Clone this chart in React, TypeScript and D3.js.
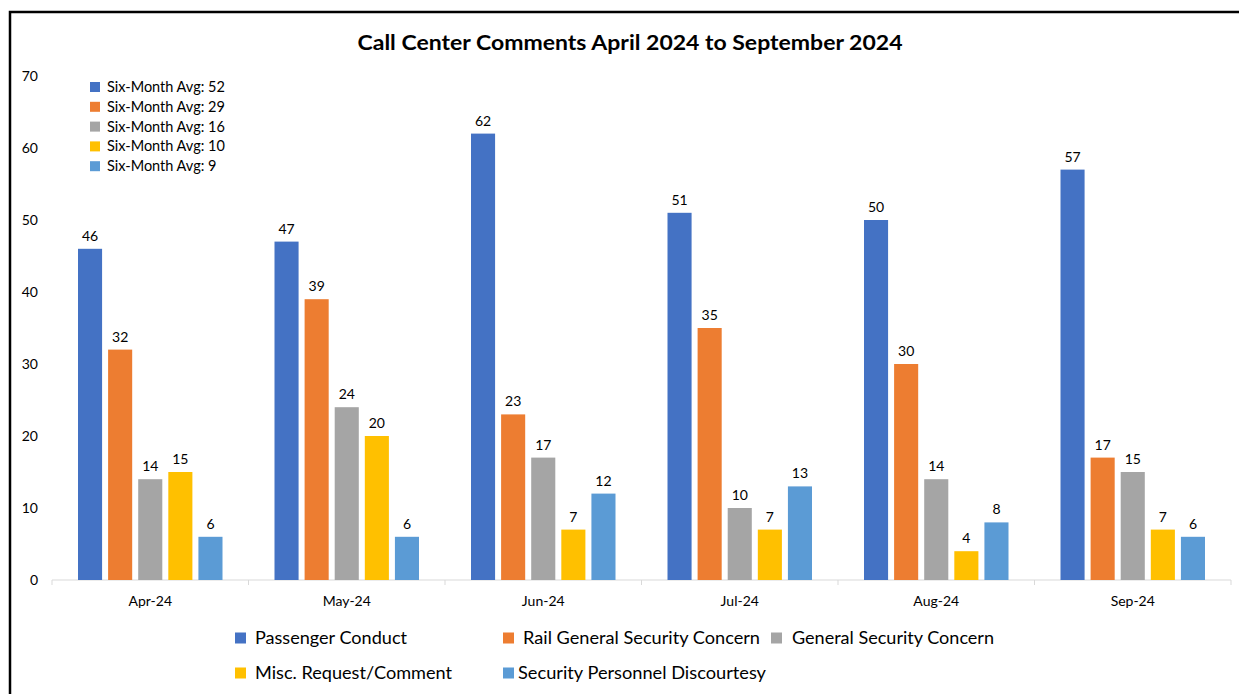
import React from "react";
import * as d3 from "d3";

const months = ["Apr-24", "May-24", "Jun-24", "Jul-24", "Aug-24", "Sep-24"];
const seriesNames = [
  "Passenger Conduct",
  "Rail General Security Concern",
  "General Security Concern",
  "Misc. Request/Comment",
  "Security Personnel Discourtesy",
];
const passengerConduct = [46, 47, 62, 51, 50, 57];
const railGeneral = [32, 39, 23, 35, 30, 17];
const generalSecurity = [14, 24, 17, 10, 14, 15];
const miscRequest = [15, 20, 7, 7, 4, 7];
const personnelDiscourtesy = [6, 6, 12, 13, 8, 6];
const averageLabels = [
  "Six-Month Avg: 52",
  "Six-Month Avg: 29",
  "Six-Month Avg: 16",
  "Six-Month Avg: 10",
  "Six-Month Avg: 9",
];
const yTicks = [0, 10, 20, 30, 40, 50, 60, 70];
const colors = ["#4472C4", "#ED7D31", "#A5A5A5", "#FFC000", "#5B9BD5"];
const title = "Call Center Comments April 2024 to September 2024";

const seriesValues = [passengerConduct, railGeneral, generalSecurity, miscRequest, personnelDiscourtesy];

const FONT = "Lato, 'Open Sans', sans-serif";

export default function App() {
  const W = 1239;
  const H = 694;
  const x0 = d3.scaleBand<string>().domain(months).range([52, 1231]).paddingInner(0).paddingOuter(0);
  const groupPad = 26;
  const x1 = d3
    .scaleBand<number>()
    .domain(d3.range(seriesNames.length))
    .range([0, x0.bandwidth() - 2 * groupPad])
    .paddingInner(0.2)
    .paddingOuter(0);
  const y = d3.scaleLinear().domain([0, 70]).range([580, 76]);

  const bottomLegend = [
    { i: 0, x: 235, y: 638 },
    { i: 1, x: 503, y: 638 },
    { i: 2, x: 771, y: 638 },
    { i: 3, x: 235, y: 673 },
    { i: 4, x: 503, y: 673 },
  ];
  const legendTextLen = [152, 237, 202, 197, 248];
  const legendTextGap = [20, 20, 21, 20, 15];

  return (
    <svg
      width={W}
      height={H}
      style={{ position: "absolute", left: 0, top: 0, background: "#fff" }}
      fontFamily={FONT}
    >
      <rect x={0} y={0} width={W} height={H} fill="#fff" />
      <rect x={10} y={12} width={1260} height={720} fill="none" stroke="#000" strokeWidth={2.5} />

      <text
        x={630}
        y={50}
        textAnchor="middle"
        fontSize={20}
        fontWeight="bold"
        fill="#000"
        textLength={545}
        lengthAdjust="spacingAndGlyphs"
      >
        {title}
      </text>

      {yTicks.map((t) => (
        <text key={t} x={38} y={y(t)} dy="0.35em" textAnchor="end" fontSize={14} fill="#000">
          {t}
        </text>
      ))}

      <line x1={52} x2={1231} y1={y(0)} y2={y(0)} stroke="#d9d9d9" strokeWidth={1} />
      {months.map((m) => (
        <line
          key={"t" + m}
          x1={x0(m)!}
          x2={x0(m)!}
          y1={y(0)}
          y2={y(0) + 5}
          stroke="#d9d9d9"
          strokeWidth={1}
        />
      ))}
      <line x1={1231} x2={1231} y1={y(0)} y2={y(0) + 5} stroke="#d9d9d9" strokeWidth={1} />
      {months.map((m) => (
        <text
          key={"l" + m}
          x={x0(m)! + x0.bandwidth() / 2}
          y={601}
          dy="0.35em"
          textAnchor="middle"
          fontSize={14}
          fill="#000"
        >
          {m}
        </text>
      ))}

      {months.map((m, mi) => (
        <g key={"g" + m} transform={`translate(${x0(m)! + groupPad},0)`}>
          {seriesValues.map((vals, si) => {
            const v = vals[mi];
            const bx = x1(si)!;
            return (
              <g key={si}>
                <rect x={bx} y={y(v)} width={x1.bandwidth()} height={y(0) - y(v)} fill={colors[si]} />
                <text
                  x={bx + x1.bandwidth() / 2}
                  y={y(v) - 8}
                  textAnchor="middle"
                  fontSize={14}
                  fill="#000"
                >
                  {v}
                </text>
              </g>
            );
          })}
        </g>
      ))}

      {averageLabels.map((lab, i) => {
        const cy = 87 + i * 19.8;
        return (
          <g key={lab}>
            <rect x={90} y={cy - 5} width={10} height={10} fill={colors[i]} />
            <text x={107} y={cy} dy="0.35em" fontSize={14.5} fill="#000">
              {lab}
            </text>
          </g>
        );
      })}

      {bottomLegend.map((b) => (
        <g key={"bl" + b.i}>
          <rect x={b.x} y={b.y - 5.5} width={11} height={11} fill={colors[b.i]} />
          <text
            x={b.x + legendTextGap[b.i]}
            y={b.y}
            dy="0.35em"
            fontSize={17}
            fill="#000"
            textLength={legendTextLen[b.i]}
            lengthAdjust="spacingAndGlyphs"
          >
            {seriesNames[b.i]}
          </text>
        </g>
      ))}
    </svg>
  );
}
